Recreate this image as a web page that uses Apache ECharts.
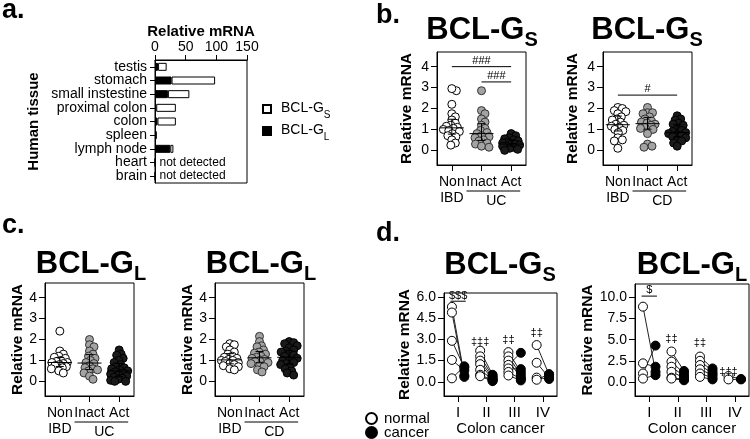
<!DOCTYPE html>
<html><head><meta charset="utf-8">
<script src="https://cdn.jsdelivr.net/npm/echarts@6/dist/echarts.min.js"></script>
<style>html,body{margin:0;padding:0;background:#fff}#c{width:750px;height:439px}</style>
</head><body><div id="c"></div>
<script>
// ================= DATA =================
// Panel a: human tissue expression (stacked: BCL-GL black + BCL-GS white)
const tissues = ['testis','stomach','small instestine','proximal colon','colon','spleen','lymph node','heart','brain'];
const tissueGL = [5, 27, 21, 2, 4, 3, 25, 0, 0];
const tissueGS = [14, 71, 35, 32, 30, 0, 5, 0, 0];
const tissueDetected = [true, true, true, true, true, true, true, false, false];
const tissueTicks = [0, 50, 100, 150];

// Panels b / c: IBD biopsies
const ibdGroups = ['Non\nIBD', 'Inact', 'Act'];
const ibdTicks = [0, 1, 2, 3, 4];
// b, UC, BCL-GS
const ucGsNon   = [2.85, 2.95, 2.2, 1.75, 1.6, 1.45, 1.3, 1.2, 1.15, 1.1, 1.05, 1.0, 0.95, 0.9, 0.8, 0.7, 0.65, 0.5, 0.35, 0.25];
const ucGsInact = [2.85, 1.9, 1.75, 1.5, 1.35, 1.2, 1.05, 0.95, 0.85, 0.8, 0.7, 0.65, 0.6, 0.5, 0.45, 0.35, 0.3, 0.2, 0.15];
const ucGsAct   = [0.8, 0.7, 0.6, 0.55, 0.5, 0.45, 0.4, 0.35, 0.3, 0.3, 0.25, 0.2, 0.2, 0.15, 0.1, 0.05, 0.0];
// b, CD, BCL-GS
const cdGsNon   = [2.05, 2.0, 1.9, 1.85, 1.75, 1.6, 1.5, 1.45, 1.35, 1.25, 1.2, 1.15, 1.1, 1.0, 0.95, 0.85, 0.6, 0.5, 0.45, 0.1];
const cdGsInact = [2.05, 1.8, 1.8, 1.75, 1.6, 1.5, 1.4, 1.35, 1.3, 1.25, 1.2, 1.1, 1.05, 1.0, 0.8, 0.3, 0.2, 0.15];
const cdGsAct   = [1.65, 1.5, 1.45, 1.3, 1.25, 1.2, 1.0, 0.95, 0.9, 0.85, 0.8, 0.75, 0.7, 0.65, 0.6, 0.5, 0.45, 0.35, 0.2];
// c, UC, BCL-GL
const ucGlNon   = [2.4, 1.45, 1.3, 1.2, 1.15, 1.1, 1.0, 0.95, 0.9, 0.9, 0.85, 0.8, 0.75, 0.7, 0.65, 0.6, 0.5, 0.4];
const ucGlInact = [2.0, 1.75, 1.65, 1.45, 1.3, 1.2, 1.1, 1.0, 0.9, 0.85, 0.75, 0.65, 0.6, 0.55, 0.5, 0.4, 0.25, 0.1];
const ucGlAct   = [1.5, 1.3, 1.25, 1.1, 1.0, 0.9, 0.8, 0.7, 0.65, 0.6, 0.55, 0.5, 0.45, 0.4, 0.35, 0.3, 0.25, 0.2, 0.15, 0.1, 0.05, 0.0, 0.0];
// c, CD, BCL-GL
const cdGlNon   = [1.8, 1.75, 1.65, 1.5, 1.4, 1.3, 1.2, 1.15, 1.1, 1.05, 1.0, 1.0, 0.95, 0.9, 0.85, 0.8, 0.75, 0.7, 0.6, 0.55];
const cdGlInact = [2.15, 1.9, 1.7, 1.65, 1.5, 1.4, 1.35, 1.3, 1.2, 1.15, 1.1, 1.05, 1.0, 0.95, 0.9, 0.85, 0.75, 0.7, 0.55, 0.45];
const cdGlAct   = [1.9, 1.85, 1.8, 1.7, 1.6, 1.5, 1.45, 1.4, 1.3, 1.25, 1.2, 1.1, 1.0, 1.0, 0.9, 0.85, 0.8, 0.7, 0.6, 0.5, 0.4, 0.3];

// Panel d: colon cancer, paired normal / cancer per stage
const stages = ['I', 'II', 'III', 'IV'];
const gsTicks = [0, 1.5, 3.0, 4.5, 6.0];
const glTicks = [0, 2.5, 5.0, 7.5, 10.0];
const gsNormal = [[5.3, 4.9, 2.9, 1.55, 0.25], [2.2, 1.8, 1.5, 1.25, 0.85, 0.5, 0.4], [2.1, 1.8, 1.5, 1.2, 0.95, 0.7, 0.45], [2.6, 1.35, 0.3, 0.15]];
const gsCancer = [[0.45, 0.35, 1.0, 0.8, 1.1], [0.5, 0.4, 0.3, 0.2, 0.15, 0.1, 0.05], [0.7, 0.5, 0.3, 2.05, 0.9, 0.2, 0.1], [0.5, 0.3, 0.2, 0.55]];
const glNormal = [[8.9, 2.2, 1.0, 0.4], [3.6, 2.4, 1.8, 1.2, 0.5, 0.4], [3.0, 2.5, 2.0, 1.5, 1.0, 0.6], [0.7, 0.3]];
const glCancer = [[1.2, 1.8, 4.3, 0.8], [1.3, 1.0, 0.7, 0.5, 0.3, 0.2], [1.6, 1.3, 1.0, 0.8, 0.5, 0.3], [0.35, 0.3]];

// ================= LAYOUT / STYLE =================
const FONT = '"Liberation Sans", Arial, Helvetica, sans-serif';
const G = [
  {left:155, top:60,  width:92,  height:123}, // a
  {left:437, top:52,  width:89,  height:113}, // b1
  {left:603, top:52,  width:89,  height:113}, // b2
  {left:45,  top:283, width:89,  height:113}, // c1
  {left:215, top:283, width:89,  height:113}, // c2
  {left:444, top:293, width:113, height:103}, // d1
  {left:635, top:284, width:114, height:112}  // d2
];
const groupStyles = [
  {color:'#ffffff', borderColor:'#000000'},
  {color:'#a3a3a3', borderColor:'#333333'},
  {color:'#1a1a1a', borderColor:'#000000'}
];
const SUBRICH = (big, small, pad) => ({
  m:{fontSize:big, fontWeight:'bold', fontFamily:FONT, color:'#000', lineHeight:big, verticalAlign:'top'},
  s:{fontSize:small, fontWeight:'bold', fontFamily:FONT, color:'#000', lineHeight:small, padding:[pad,0,0,0], verticalAlign:'top'}
});

// ================= HELPERS =================
function swarm(vals, pxPerY, pxPerX, minDist, maxOff) {
  const order = vals.map((v, i) => i).sort((i, j) => vals[j] - vals[i]);
  const placed = [];
  const off = new Array(vals.length).fill(0);
  const step = 0.5;
  for (const i of order) {
    const y = vals[i] * pxPerY;
    let chosen = null, best = -1, bestC = 0;
    for (let k = 0; k < 200; k++) {
      const c = k === 0 ? 0 : (k % 2 ? 1 : -1) * Math.ceil(k / 2) * step;
      if (Math.abs(c) > maxOff) break;
      let md = Infinity;
      for (const p of placed) {
        const d = Math.hypot(p[0] - c, p[1] - y);
        if (d < md) md = d;
      }
      if (md >= minDist) { chosen = c; break; }
      if (md > best) { best = md; bestC = c; }
    }
    if (chosen === null) chosen = bestC;
    placed.push([chosen, y]);
    off[i] = chosen / pxPerX;
  }
  return off;
}
function quant(sorted, p) {
  const h = (sorted.length - 1) * p, lo = Math.floor(h), hi = Math.ceil(h);
  return sorted[lo] + (sorted[hi] - sorted[lo]) * (h - lo);
}

// ================= OPTION BUILD =================
const grid = G.map(g => Object.assign({show:true, borderColor:'#000', borderWidth:1, backgroundColor:'transparent', containLabel:false}, g));
const xAxis = [], yAxis = [], series = [], graphic = [];
const AXLINE = {show:true, onZero:false, lineStyle:{color:'#000', width:1}};

// ---- Panel a ----
xAxis.push({type:'value', gridIndex:0, position:'top', min:0, max:150, interval:50,
  name:'Relative mRNA', nameLocation:'middle', nameGap:21, nameMoveOverlap:false,
  nameTextStyle:{fontSize:15, fontWeight:'bold', color:'#000', fontFamily:FONT},
  axisLine:AXLINE, axisTick:{show:true, length:5, lineStyle:{color:'#000'}},
  axisLabel:{fontSize:14, color:'#000', margin:6, fontFamily:FONT, customValues:tissueTicks}, splitLine:{show:false}});
yAxis.push({type:'category', gridIndex:0, data:tissues, inverse:true,
  name:'Human tissue', nameLocation:'middle', nameGap:114,
  nameTextStyle:{fontSize:15, fontWeight:'bold', color:'#000', fontFamily:FONT},
  axisLine:AXLINE, axisTick:{show:true, alignWithLabel:true, length:5, lineStyle:{color:'#000'}},
  axisLabel:{interval:0, fontSize:14, color:'#000', margin:8, fontFamily:FONT}});
series.push({type:'bar', name:'BCL-GL', xAxisIndex:0, yAxisIndex:0, stack:'t', barWidth:8,
  itemStyle:{color:'#000', borderColor:'#000', borderWidth:1},
  data: tissueGL.map((v, i) => tissueDetected[i] ? v : {value:0, label:{show:true, position:'right', distance:4, formatter:'not detected', fontSize:12, color:'#000', fontFamily:FONT}})});
series.push({type:'bar', name:'BCL-GS', xAxisIndex:0, yAxisIndex:0, stack:'t', barWidth:8,
  itemStyle:{color:'#fff', borderColor:'#000', borderWidth:1},
  data: tissueGS.map(v => v > 0 ? v : '-')});

// ---- Panels b / c ----
const ibdPanels = [
  {g:1, groups:[ucGsNon, ucGsInact, ucGsAct], dis:'UC', sub:'S', cx:482, cy:27.5, nameGap:22,
    sig:[[0, 2, 4.0, 4.28, '###'], [1, 2, 3.27, 3.55, '###']]},
  {g:2, groups:[cdGsNon, cdGsInact, cdGsAct], dis:'CD', sub:'S', cx:647, cy:27.5, nameGap:22, sig:[[0, 2, 2.64, 2.93, '#']]},
  {g:3, groups:[ucGlNon, ucGlInact, ucGlAct], dis:'UC', sub:'L', cx:91, cy:261.7, nameGap:12, sig:[]},
  {g:4, groups:[cdGlNon, cdGlInact, cdGlAct], dis:'CD', sub:'L', cx:261, cy:261.7, nameGap:18, sig:[]}
];
const YMIN = -0.7, YMAX = 4.7;

function sigSeries(xi, yi, sig) {
  return {type:'custom', xAxisIndex:xi, yAxisIndex:yi, z:6, silent:true,
    data: sig.map(s => [s[0], s[1], s[2], s[3]]),
    renderItem: (params, api) => {
      const s = sig[params.dataIndex];
      const a = api.coord([api.value(0), api.value(2)]);
      const b = api.coord([api.value(1), api.value(2)]);
      const t = api.coord([(api.value(0) + api.value(1)) / 2, api.value(3)]);
      const ch = [{type:'text', x:t[0], y:t[1], style:{text:s[4], fontSize:11, fontFamily:FONT, fill:'#000', align:'center', verticalAlign:'middle'}}];
      if (api.value(1) > api.value(0)) ch.push({type:'line', shape:{x1:a[0], y1:a[1], x2:b[0], y2:b[1]}, style:{stroke:'#000', lineWidth:1}});
      return {type:'group', children:ch};
    }};
}

ibdPanels.forEach(p => {
  const gr = G[p.g];
  xAxis.push({type:'category', gridIndex:p.g, data:ibdGroups, boundaryGap:true,
    axisLine:AXLINE,
    axisTick:{show:true, alignWithLabel:true, length:6, lineStyle:{color:'#000'}},
    axisLabel:{interval:0, fontSize:14, color:'#000', margin:9, lineHeight:16, fontFamily:FONT}});
  const xVal = xAxis.length;
  xAxis.push({type:'value', gridIndex:p.g, min:-0.5, max:2.5, show:false, axisLine:{show:false, onZero:false}});
  const yi = yAxis.length;
  yAxis.push({type:'value', gridIndex:p.g, min:YMIN, max:YMAX,
    name:'Relative mRNA', nameLocation:'middle', nameGap:p.nameGap,
    nameTextStyle:{fontSize:15.5, fontWeight:'bold', color:'#000', fontFamily:FONT},
    axisLine:AXLINE,
    axisTick:{show:true, length:6, customValues:ibdTicks, lineStyle:{color:'#000'}},
    axisLabel:{customValues:ibdTicks, fontSize:14, color:'#000', margin:8, fontFamily:FONT},
    splitLine:{show:false}});
  const pxY = gr.height / (YMAX - YMIN), pxX = gr.width / 3;
  const summ = [];
  p.groups.forEach((vals, gi) => {
    const offs = swarm(vals, pxY, pxX, 4.6, 8.5);
    series.push({type:'scatter', xAxisIndex:xVal, yAxisIndex:yi, symbolSize:8, z:3,
      itemStyle:Object.assign({borderWidth:1, opacity:1}, groupStyles[gi]),
      data: vals.map((v, i) => [gi + offs[i], v])});
    const s = vals.slice().sort((a, b) => a - b);
    summ.push([gi, quant(s, 0.5), quant(s, 0.25), quant(s, 0.75)]);
  });
  series.push({type:'custom', xAxisIndex:xVal, yAxisIndex:yi, z:5, silent:true, data:summ,
    renderItem: (params, api) => {
      const m = api.coord([api.value(0), api.value(1)]);
      const lo = api.coord([api.value(0), api.value(2)]);
      const hi = api.coord([api.value(0), api.value(3)]);
      const st = {stroke:'#000', lineWidth:1};
      return {type:'group', children:[
        {type:'line', shape:{x1:m[0] - 12, y1:m[1], x2:m[0] + 12, y2:m[1]}, style:st},
        {type:'line', shape:{x1:lo[0], y1:lo[1], x2:hi[0], y2:hi[1]}, style:st},
        {type:'line', shape:{x1:lo[0] - 4, y1:lo[1], x2:lo[0] + 4, y2:lo[1]}, style:st},
        {type:'line', shape:{x1:hi[0] - 4, y1:hi[1], x2:hi[0] + 4, y2:hi[1]}, style:st}
      ]};
    }});
  if (p.sig.length) series.push(sigSeries(xVal, yi, p.sig));
  // disease group underline
  const c1 = gr.left + gr.width * 1.5 / 3, c2 = gr.left + gr.width * 2.5 / 3, bot = gr.top + gr.height;
  graphic.push({type:'line', shape:{x1:c1 - 15, y1:bot + 26, x2:c2 + 9, y2:bot + 26}, style:{stroke:'#000', lineWidth:1}});
  graphic.push({type:'text', x:(c1 + c2) / 2, y:bot + 36, style:{text:p.dis, fontSize:14, fontFamily:FONT, fill:'#000', align:'center', verticalAlign:'middle'}});
  // title
  graphic.push({type:'text', x:p.cx, y:p.cy + 2.75, style:{text:'{m|BCL-G}{s|' + p.sub + '}', rich:SUBRICH(31, 20, 15.5), align:'center', verticalAlign:'middle'}});
});

// ---- Panels d ----
const OFF = 0.22;
const dPanels = [
  {g:5, normal:gsNormal, cancer:gsCancer, ticks:gsTicks, min:-1.0, max:6.28, sub:'S', cx:500, cy:263, nameGap:28,
    sig:[[-OFF - 0.05, OFF + 0.05, 5.7, 6.05, '$$$'], [1 - OFF, 1 - OFF, 0, 2.84, '\u2021\u2021\u2021'], [2 - OFF, 2 - OFF, 0, 2.96, '\u2021\u2021'], [3 - OFF, 3 - OFF, 0, 3.46, '\u2021\u2021']]},
  {g:6, normal:glNormal, cancer:glCancer, ticks:glTicks, min:-1.66, max:11.58, sub:'L', cx:692, cy:263, nameGap:36,
    sig:[[-OFF - 0.05, OFF + 0.05, 10.15, 10.85, '$'], [1 - OFF, 1 - OFF, 0, 5.14, '\u2021\u2021'], [2 - OFF, 2 - OFF, 0, 4.62, '\u2021\u2021'], [3 - OFF, 3 - OFF, 0, 1.18, '\u2021\u2021\u2021']]}
];
dPanels.forEach(p => {
  xAxis.push({type:'category', gridIndex:p.g, data:stages, boundaryGap:true,
    name:'Colon cancer', nameLocation:'middle', nameGap:25,
    nameTextStyle:{fontSize:15, color:'#000', fontFamily:FONT},
    axisLine:AXLINE,
    axisTick:{show:true, alignWithLabel:true, length:6, lineStyle:{color:'#000'}},
    axisLabel:{interval:0, fontSize:15, color:'#000', margin:9, fontFamily:FONT}});
  const xVal = xAxis.length;
  xAxis.push({type:'value', gridIndex:p.g, min:-0.5, max:stages.length - 0.5, show:false, axisLine:{show:false, onZero:false}});
  const yi = yAxis.length;
  yAxis.push({type:'value', gridIndex:p.g, min:p.min, max:p.max,
    name:'Relative mRNA', nameLocation:'middle', nameGap:p.nameGap,
    nameTextStyle:{fontSize:15.5, fontWeight:'bold', color:'#000', fontFamily:FONT},
    axisLine:AXLINE,
    axisTick:{show:true, length:6, customValues:p.ticks, lineStyle:{color:'#000'}},
    axisLabel:{customValues:p.ticks, fontSize:14, color:'#000', margin:8, fontFamily:FONT, formatter:v => Number(v).toFixed(1)},
    splitLine:{show:false}});
  const pairs = [];
  p.normal.forEach((arr, s) => arr.forEach((v, i) => pairs.push([s, v, p.cancer[s][i]])));
  series.push({type:'custom', xAxisIndex:xVal, yAxisIndex:yi, z:2, silent:true, data:pairs,
    renderItem: (params, api) => {
      const a = api.coord([api.value(0) - OFF, api.value(1)]);
      const b = api.coord([api.value(0) + OFF, api.value(2)]);
      return {type:'line', shape:{x1:a[0], y1:a[1], x2:b[0], y2:b[1]}, style:{stroke:'#222', lineWidth:1}};
    }});
  series.push({type:'scatter', name:'normal', xAxisIndex:xVal, yAxisIndex:yi, symbolSize:9, z:3,
    itemStyle:{color:'#fff', borderColor:'#000', borderWidth:1, opacity:1},
    data: pairs.map(q => [q[0] - OFF, q[1]])});
  series.push({type:'scatter', name:'cancer', xAxisIndex:xVal, yAxisIndex:yi, symbolSize:9, z:4,
    itemStyle:{color:'#000', borderColor:'#000', borderWidth:1, opacity:1},
    data: pairs.map(q => [q[0] + OFF, q[2]])});
  series.push(sigSeries(xVal, yi, p.sig));
  graphic.push({type:'text', x:p.cx, y:p.cy + 2.75, style:{text:'{m|BCL-G}{s|' + p.sub + '}', rich:SUBRICH(31, 20, 15.5), align:'center', verticalAlign:'middle'}});
});

// panel letters
[['a.', 2, 11], ['b.', 376, 16], ['c.', 2, 226], ['d.', 376, 234]].forEach(l => {
  graphic.push({type:'text', x:l[1], y:l[2], style:{text:l[0], fontSize:27, fontWeight:'bold', fontFamily:FONT, fill:'#000', align:'left', verticalAlign:'middle'}});
});

const dLegend = (name, top) => ({data:[name], orient:'vertical', left:365, top:top, padding:0, itemWidth:11, itemHeight:11, icon:'circle',
  selectedMode:false, textStyle:{fontSize:15, fontFamily:FONT, color:'#000', padding:[0,0,0,2]}});

const option = {
  animation:false,
  backgroundColor:'#fff',
  textStyle:{fontFamily:FONT, color:'#000'},
  grid, xAxis, yAxis, series,
  legend:[
    {data:['BCL-GS', 'BCL-GL'], orient:'vertical', left:262, top:101, padding:0, itemWidth:8, itemHeight:8, itemGap:3, icon:'rect',
      selectedMode:false, formatter: n => '{m|BCL-G}{s|' + n.slice(-1) + '}',
      textStyle:{rich:{m:{fontSize:14, fontFamily:FONT, color:'#000', lineHeight:16, verticalAlign:'top', padding:[0,0,0,5]},
                       s:{fontSize:10, fontFamily:FONT, color:'#000', lineHeight:10, padding:[9,0,0,0], verticalAlign:'top'}}}},
    dLegend('normal', 411),
    dLegend('cancer', 425)
  ],
  graphic:{elements:graphic}
};
const chart = echarts.init(document.getElementById('c'), null, {renderer:'canvas'});
chart.setOption(option);
</script></body></html>
